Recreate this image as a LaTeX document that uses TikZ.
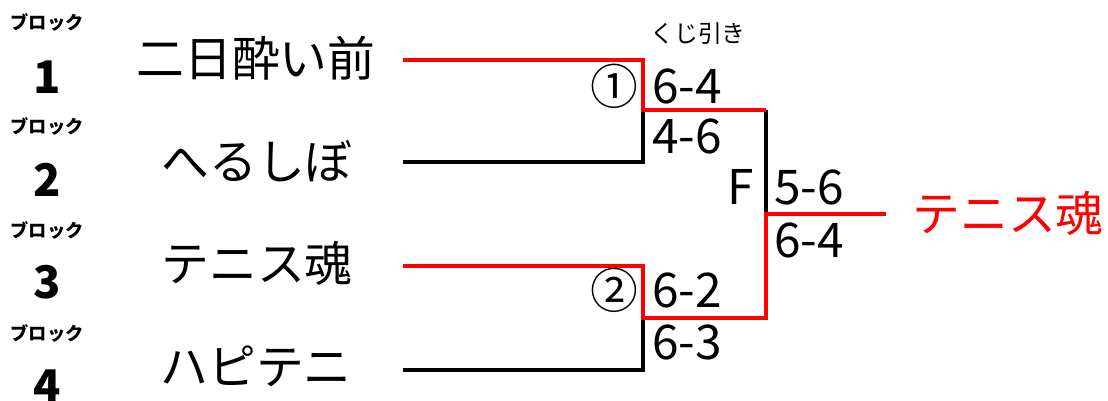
\documentclass[tikz,border=0pt]{standalone}
\usepackage{fontspec}
\setmainfont{Noto Sans CJK JP}
\usetikzlibrary{positioning}

\begin{document}
\begin{tikzpicture}[x=0.025cm,y=-0.025cm,inner sep=0pt,
      block node/.style={font=\bfseries\fontsize{13}{14}\selectfont},
      num node/.style={font=\bfseries\fontsize{32}{34}\selectfont},
      team node/.style={font=\fontsize{34}{36}\selectfont},
      score node/.style={anchor=west,font=\fontsize{34}{36}\selectfont},
      win line/.style={draw=red,line width=3.1pt},
      lose line/.style={draw=black,line width=3.1pt}]
      \useasboundingbox (0,0) rectangle (1108,400);

      % blocks
      \node[block node] (blk1) at (47,22) {ブロック};
      \node[block node] (blk2) at (47,126) {ブロック};
      \node[block node] (blk3) at (47,230) {ブロック};
      \node[block node] (blk4) at (47,333) {ブロック};
      \node[num node] (num1) at (47,77) {1};
      \node[num node] (num2) at (47,180) {2};
      \node[num node] (num3) at (47,282) {3};
      \node[num node] (num4) at (47,386) {4};

      % teams
      \node[team node] (team1) at (256,58) {二日酔い前};
      \node[team node] (team2) at (257,161) {へるしぼ};
      \node[team node] (team3) at (257,263) {テニス魂};
      \node[team node] (team4) at (256,366) {ハピテニ};
      \node[team node,text=red] (winner) at (1008,213) {テニス魂};

      \coordinate (e1) at (403,60);
      \coordinate (e2) at (403,162);
      \coordinate (e3) at (403,266);
      \coordinate (e4) at (403,370);
      \coordinate (semi1) at (643,110);
      \coordinate (semi2) at (643,318);
      \coordinate (fin1) at (766,110);
      \coordinate (fin2) at (766,318);
      \coordinate (champ) at (766,214);
      \coordinate (wend) at (886,214);

      % scores
      \node[font=\fontsize{17}{18}\selectfont] (lot) at (698,34) {くじ引き};
      \node[team node] (m1) at (614,86) {①};
      \node[team node] (m2) at (614,290) {②};
      \node[team node] (fmark) at (741,187) {F};
      \node[score node] (s1a) at (652,86) {6-4};
      \node[score node] (s1b) at (652,136) {4-6};
      \node[score node] (s2a) at (652,290) {6-2};
      \node[score node] (s2b) at (652,342) {6-3};
      \node[score node] (sfa) at (774,187) {5-6};
      \node[score node] (sfb) at (774,240) {6-4};

      \draw[lose line] (e2) -| (semi1);
      \draw[lose line] (e4) -| (semi2);
      \draw[lose line] (fin1) -- (champ);
      \draw[win line] (e1) -| (semi1) -- (fin1);
      \draw[win line] (e3) -| (semi2) -- (fin2) -- (champ) -- (wend);
    \end{tikzpicture}
\end{document}
